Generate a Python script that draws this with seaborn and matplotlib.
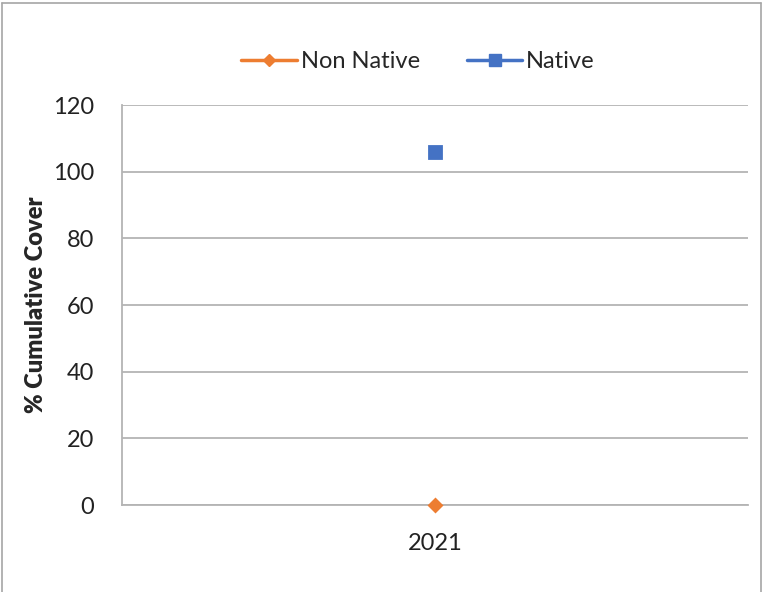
import matplotlib
matplotlib.use("Agg")
import matplotlib.pyplot as plt
from matplotlib.lines import Line2D
import seaborn as sns
import pandas as pd

# Cumulative cover by plant group
years = ["2021"]
non_native = [0]
native = [106]
series_names = ["Non Native", "Native"]
colors = {"Non Native": "#ED7D31", "Native": "#4472C4"}
markers = {"Non Native": "D", "Native": "s"}
y_ticks = [0, 20, 40, 60, 80, 100, 120]

df = pd.DataFrame({
    "Year": years * 2,
    "Cover": non_native + native,
    "Group": ["Non Native"] * len(years) + ["Native"] * len(years),
})

sns.set_style("white")
plt.rcParams["font.family"] = ["Lato", "DejaVu Sans"]
FS = 17

fig = plt.figure(figsize=(7.62, 5.92), dpi=100)
ax = fig.add_axes([122 / 762, 1 - 505 / 592, (748 - 122) / 762, (505 - 105) / 592])

msize = {"Non Native": 6.5, "Native": 8}
for name in series_names:
    sub = df[df["Group"] == name]
    sns.pointplot(data=sub, x="Year", y="Cover", color=colors[name],
                  marker=markers[name], markersize=msize[name],
                  linestyle="none", errorbar=None, ax=ax)
for coll in ax.collections + ax.lines:
    coll.set_clip_on(False)
    coll.set_zorder(5)

ax.set_xlim(-0.5, 0.5)
ax.set_ylim(0, 120)
ax.set_yticks(y_ticks)
ax.yaxis.grid(True, color="#b4b4b4", linewidth=1.3)
ax.set_axisbelow(True)
for side in ["top", "right"]:
    ax.spines[side].set_visible(False)
for side in ["left", "bottom"]:
    ax.spines[side].set_color("#b4b4b4")
    ax.spines[side].set_linewidth(1.3)
ax.tick_params(axis="both", length=0, labelsize=FS, colors="#222222")
ax.tick_params(axis="y", pad=20)
ax.tick_params(axis="x", pad=20)
ax.set_xlabel("")
ax.set_ylabel("% Cumulative Cover", fontsize=FS, fontweight="heavy", labelpad=4)

handles = [Line2D([0], [0], color=colors[n], marker=markers[n], linewidth=2.5,
                  markersize=msize[n]) for n in series_names]
fig.legend(handles, series_names, loc="center", bbox_to_anchor=(418 / 762, 1 - 62 / 592),
           ncol=2, frameon=False, fontsize=FS, handlelength=2.35, handletextpad=0.15,
           columnspacing=2.0)

# chart outline
for xy in [((2 / 762, 2 / 762), (0, 1 - 3 / 592)),
           ((2 / 762, 761 / 762), (1 - 3 / 592, 1 - 3 / 592)),
           ((761 / 762, 761 / 762), (0, 1 - 3 / 592))]:
    fig.add_artist(Line2D(xy[0], xy[1], color="#a6a6a6", linewidth=1.2))

fig.savefig("out.png", dpi=100)
